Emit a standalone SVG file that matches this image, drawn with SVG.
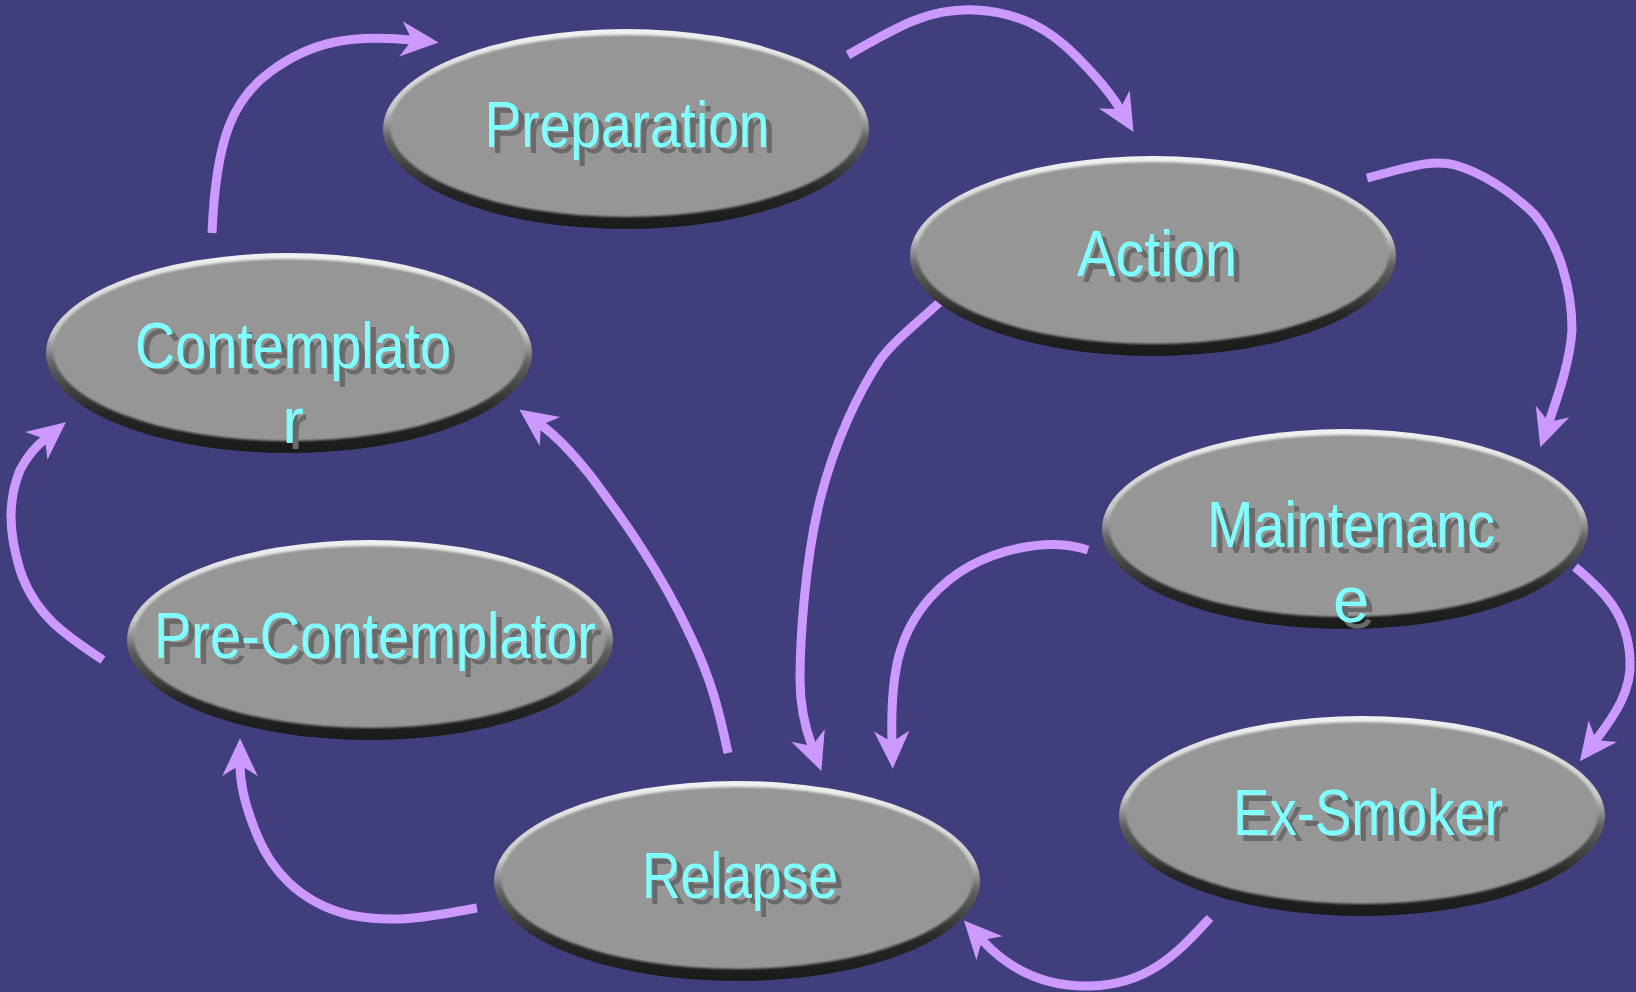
<svg xmlns="http://www.w3.org/2000/svg" xmlns:xlink="http://www.w3.org/1999/xlink" width="1636" height="992" viewBox="0 0 1636 992">
<defs>
<linearGradient id="rim" x1="0" y1="0" x2="0" y2="1">
<stop offset="0" stop-color="#f2f2f2"/>
<stop offset="0.4" stop-color="#c8c8c8"/>
<stop offset="0.55" stop-color="#606060"/>
<stop offset="0.8" stop-color="#262626"/>
<stop offset="1" stop-color="#1a1a1a"/>
</linearGradient>
<filter id="soft" x="-5%" y="-5%" width="110%" height="110%">
<feGaussianBlur stdDeviation="1.2"/>
</filter>
<filter id="tsh" x="-10%" y="-20%" width="120%" height="150%">
<feFlood flood-color="#6a6a6a" result="c"/>
<feComposite in="c" in2="SourceAlpha" operator="in" result="s"/>
<feOffset in="s" dx="6" dy="6" result="o"/>
<feMerge><feMergeNode in="o"/><feMergeNode in="SourceGraphic"/></feMerge>
</filter>
<marker id="ah" markerUnits="userSpaceOnUse" markerWidth="50" markerHeight="50" viewBox="-5 -20 45 40" refX="10" refY="0" orient="auto" overflow="visible">
<path d="M0,-16 L34,0 L0,16 L10,0 Z" fill="#cc99ff"/>
</marker>
<g id="pill">
<ellipse cx="0" cy="0" rx="243" ry="100" fill="url(#rim)"/>
<ellipse cx="0" cy="-3" rx="236" ry="91" fill="#969696" filter="url(#soft)"/>
</g>
</defs>
<style>
.t{font-family:"Liberation Sans Narrow","Liberation Sans",Arial,sans-serif;font-size:65px;text-anchor:middle;fill:#80ffff;filter:url(#tsh)}
.c{fill:none;stroke:#cc99ff;stroke-width:9;marker-end:url(#ah)}
</style>
<rect width="1636" height="992" fill="#403e7c"/>
<g id="connectors">
<path class="c" d="M212,233 C216,140 232,100 270,72 C310,42 350,34 412,40"/>
<path class="c" d="M848,55 C900,25 930,8 975,10 C1020,12 1050,30 1075,55 C1095,75 1110,92 1120,109"/>
<path class="c" d="M1367,178 C1400,170 1430,158 1455,165 C1480,172 1510,190 1535,215 C1560,245 1572,290 1572,330 C1570,360 1560,390 1549,422"/>
<path class="c" d="M1575,567 C1605,592 1628,615 1630,660 C1632,690 1615,715 1596,740"/>
<path class="c" d="M1210,918 C1180,950 1150,985 1090,986 C1040,987 1005,965 982,940"/>
<path class="c" d="M477,908 C440,914 400,925 350,915 C300,903 270,870 255,830 C245,805 240,785 240,765"/>
<path class="c" d="M103,660 C65,635 35,615 20,570 C8,530 8,500 20,470 C28,455 35,447 45,439"/>
<path class="c" d="M728,753 C720,715 712,680 690,635 C660,570 620,515 590,475 C570,450 555,435 541,425"/>
<path class="c" d="M942,300 C915,325 895,340 880,360 C860,390 835,440 820,500 C805,560 800,640 800,680 C800,710 806,730 812,746"/>
<path class="c" d="M1088,550 C1065,543 1045,543 1020,548 C985,555 955,570 930,598 C900,632 890,670 892,742"/>
</g>
<g id="preparation">
<use xlink:href="#pill" x="626" y="129"/>
<text class="t" x="627" y="147" textLength="285" lengthAdjust="spacingAndGlyphs">Preparation</text>
</g>
<g id="contemplator">
<use xlink:href="#pill" x="289" y="353"/>
<text class="t" x="293" y="368" textLength="316" lengthAdjust="spacingAndGlyphs">Contemplato</text>
<text class="t" x="293" y="443">r</text>
</g>
<g id="action">
<use xlink:href="#pill" x="1153" y="256"/>
<text class="t" x="1157" y="276" textLength="160" lengthAdjust="spacingAndGlyphs">Action</text>
</g>
<g id="maintenance">
<use xlink:href="#pill" x="1345" y="529"/>
<text class="t" x="1351" y="547" textLength="288" lengthAdjust="spacingAndGlyphs">Maintenanc</text>
<text class="t" x="1351" y="622">e</text>
</g>
<g id="pre-contemplator">
<use xlink:href="#pill" x="370" y="640"/>
<text class="t" x="375" y="658" textLength="442" lengthAdjust="spacingAndGlyphs">Pre-Contemplator</text>
</g>
<g id="ex-smoker">
<use xlink:href="#pill" x="1362" y="816"/>
<text class="t" x="1368" y="835" textLength="270" lengthAdjust="spacingAndGlyphs">Ex-Smoker</text>
</g>
<g id="relapse">
<use xlink:href="#pill" x="737" y="881"/>
<text class="t" x="740" y="898" textLength="196" lengthAdjust="spacingAndGlyphs">Relapse</text>
</g>
</svg>
